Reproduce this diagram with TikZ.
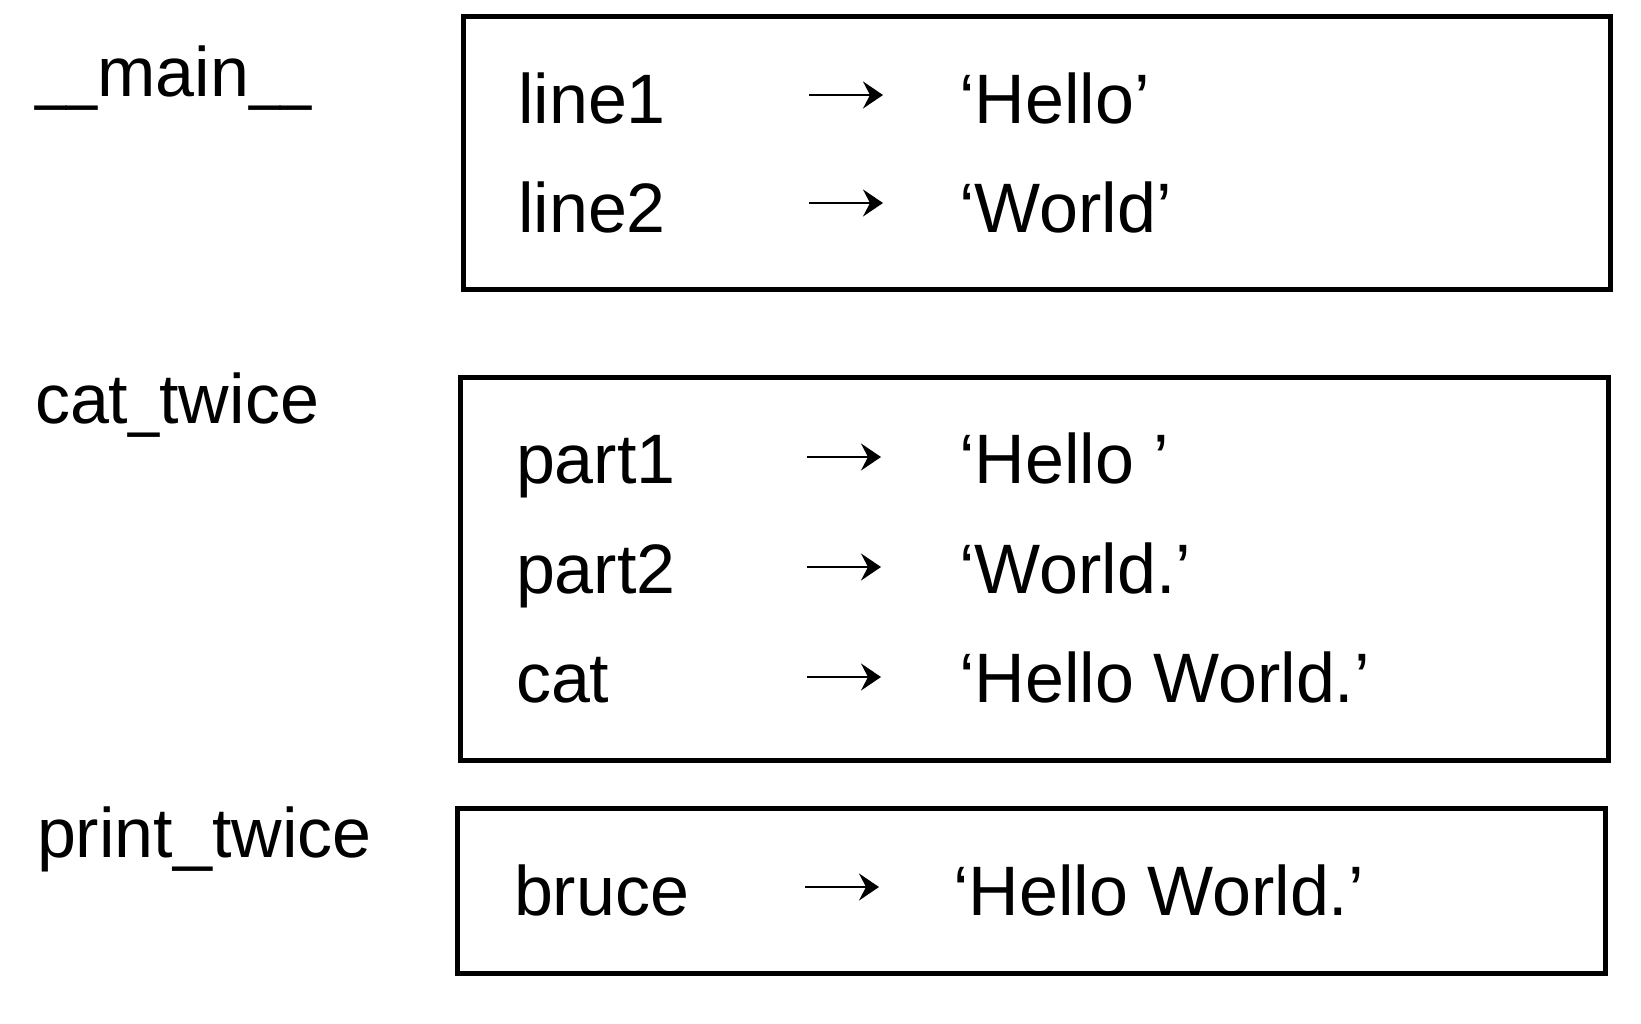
\documentclass[tikz,border=0pt]{standalone}
\usepackage{fontspec}
\setmainfont{Liberation Sans}
\usetikzlibrary{arrows.meta}
\begin{document}
\begin{tikzpicture}[x=1pt,y=-1pt,
  txt/.style={anchor=base west,inner sep=0pt,outer sep=0pt,font=\fontsize{70}{70}\selectfont},
  arrc/.style={line width=2.2pt,-{Stealth[length=20pt,width=27pt,inset=7pt]}},
  framebox/.style={draw=black,line width=5pt,inner sep=0pt,outer sep=0pt,rectangle}]
\useasboundingbox[fill=white] (0,0) rectangle (1641,1024);
% frames
\node[framebox,minimum width=1147pt,minimum height=273pt] (f1) at (1036.5,153.5) {};
\node[framebox,minimum width=1148pt,minimum height=383pt] (f2) at (1034,568.5) {};
\node[framebox,minimum width=1148pt,minimum height=165pt] (f3) at (1031,890.5) {};
% frame labels
\node[txt] (l1) at (35,97) {\scalebox{0.8}[1]{\_}\scalebox{0.8}[1]{\_}main\scalebox{0.8}[1]{\_}\scalebox{0.8}[1]{\_}};
\node[txt] (l2) at (35,423) {cat\scalebox{0.8}[1]{\_}twice};
\node[txt] (l3) at (37,857) {print\_twice};
% main
\node[txt] (n11) at (518,124) {line1};
\coordinate (s11) at (809,95); \coordinate (e11) at (883,95);
\node[txt] (v11) at (959,124) {‘Hello’};
\node[txt] (n12) at (518,233) {line2};
\coordinate (s12) at (809,203); \coordinate (e12) at (883,203);
\node[txt] (v12) at (959,233) {‘World’};
% cat_twice
\node[txt] (n21) at (516,483) {part1};
\coordinate (s21) at (807,457); \coordinate (e21) at (881,457);
\node[txt] (v21) at (959,483) {‘Hello ’};
\node[txt] (n22) at (516,593) {part2};
\coordinate (s22) at (807,567); \coordinate (e22) at (881,567);
\node[txt] (v22) at (959,593) {‘World.’};
\node[txt] (n23) at (516,702) {cat};
\coordinate (s23) at (807,677); \coordinate (e23) at (881,677);
\node[txt] (v23) at (959,702) {‘Hello World.’};
% print_twice
\node[txt] (n31) at (514,915) {bruce};
\coordinate (s31) at (805,887); \coordinate (e31) at (879,887);
\node[txt] (v31) at (953,915) {‘Hello World.’};
% arrows
\foreach \r in {11,12,21,22,23,31} \draw[arrc] (s\r) -- (e\r);
\end{tikzpicture}
\end{document}
